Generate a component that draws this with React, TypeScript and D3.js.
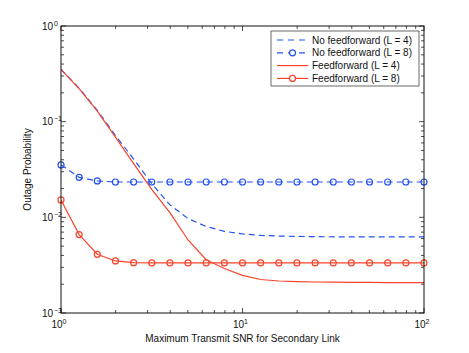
import * as d3 from "d3";
import React from "react";

// SNR points: 0..20 dB in 1 dB steps
const snrDb = d3.range(0, 21);
const snr = snrDb.map((k) => Math.pow(10, k / 10));

const noFfL4 = [0.352, 0.224, 0.131, 0.0717, 0.0407, 0.0225, 0.0135, 0.0097, 0.00803, 0.00713, 0.00671,
  0.00647, 0.00637, 0.00632, 0.00628, 0.00626, 0.00625, 0.00624, 0.00624, 0.00624, 0.00624];
const noFfL8 = [0.0353, 0.0262, 0.024, 0.0234, 0.0234, 0.0234, 0.0234, 0.0234, 0.0234, 0.0234, 0.0234,
  0.0234, 0.0234, 0.0234, 0.0234, 0.0234, 0.0234, 0.0234, 0.0234, 0.0234, 0.0234];
const ffL4 = [0.349, 0.222, 0.129, 0.069, 0.0365, 0.0196, 0.0112, 0.0058, 0.0036, 0.00292, 0.00247,
  0.00224, 0.00216, 0.00213, 0.00211, 0.0021, 0.00209, 0.00209, 0.00208, 0.00208, 0.00208];
const ffL8 = [0.0152, 0.0066, 0.00411, 0.0035, 0.00336, 0.00334, 0.00334, 0.00334, 0.00334, 0.00334, 0.00334,
  0.00334, 0.00334, 0.00334, 0.00334, 0.00334, 0.00334, 0.00334, 0.00334, 0.00334, 0.00334];

const legendLabels = ["No feedforward (L = 4)", "No feedforward (L = 8)", "Feedforward (L = 4)", "Feedforward (L = 8)"];
const xTicks = [1, 10, 100];
const yTicks = [0.001, 0.01, 0.1, 1];

const BLUE = "#2452f2";
const RED = "#f8442a";
const FONT = "'Liberation Sans', Arial, Helvetica, sans-serif";

const App = () => {
  const width = 469;
  const height = 353;
  const left = 61, right = 424, top = 26, bottom = 313;

  const x = d3.scaleLog().domain([1, 100]).range([left, right]);
  const y = d3.scaleLog().domain([0.001, 1]).range([bottom, top]);

  const line = d3.line<number>().x((_, i) => x(snr[i])).y((d) => y(d));

  const series = [
    { data: noFfL4, color: BLUE, dash: "6,4", marker: false },
    { data: noFfL8, color: BLUE, dash: "6,4", marker: true },
    { data: ffL4, color: RED, dash: null, marker: false },
    { data: ffL8, color: RED, dash: null, marker: true },
  ];

  // minor ticks
  const xMinor: number[] = [];
  [1, 10].forEach((d) => d3.range(2, 10).forEach((m) => xMinor.push(d * m)));
  const yMinor: number[] = [];
  [0.001, 0.01, 0.1].forEach((d) => d3.range(2, 10).forEach((m) => yMinor.push(d * m)));

  const sup = (v: number) => Math.round(Math.log10(v)).toString().replace("-", "\u2212");

  const lx = 271, ly = 31, lw = 148, lh = 55;

  return (
    <svg width={width} height={height} style={{ position: "absolute", left: 0, top: 0 }} fontFamily={FONT}>
      <rect width={width} height={height} fill="#fff" />
      <defs>
        <clipPath id="plot">
          <rect x={left} y={top} width={right - left} height={bottom - top} />
        </clipPath>
      </defs>

      {/* ticks */}
      <g stroke="#222" strokeWidth={0.8}>
        {xTicks.map((t) => (
          <g key={"xt" + t}>
            <line x1={x(t)} x2={x(t)} y1={bottom} y2={bottom - 5} />
            <line x1={x(t)} x2={x(t)} y1={top} y2={top + 5} />
          </g>
        ))}
        {xMinor.map((t) => (
          <g key={"xm" + t}>
            <line x1={x(t)} x2={x(t)} y1={bottom} y2={bottom - 3} />
            <line x1={x(t)} x2={x(t)} y1={top} y2={top + 3} />
          </g>
        ))}
        {yTicks.map((t) => (
          <g key={"yt" + t}>
            <line x1={left} x2={left + 5} y1={y(t)} y2={y(t)} />
            <line x1={right} x2={right - 5} y1={y(t)} y2={y(t)} />
          </g>
        ))}
        {yMinor.map((t) => (
          <g key={"ym" + t}>
            <line x1={left} x2={left + 3} y1={y(t)} y2={y(t)} />
            <line x1={right} x2={right - 3} y1={y(t)} y2={y(t)} />
          </g>
        ))}
      </g>

      {/* data */}
      <g clipPath="url(#plot)">
        {series.map((s, i) => (
          <path key={"l" + i} d={line(s.data) || ""} fill="none" stroke={s.color} strokeWidth={1.2}
            strokeDasharray={s.dash || undefined} />
        ))}
      </g>
      {series.filter((s) => s.marker).map((s, i) => (
        <g key={"m" + i}>
          {s.data.map((v, j) => (
            <circle key={j} cx={x(snr[j])} cy={y(v)} r={3} fill="none" stroke={s.color} strokeWidth={1.2} />
          ))}
        </g>
      ))}

      {/* frame */}
      <rect x={left} y={top} width={right - left} height={bottom - top} fill="none" stroke="#111" strokeWidth={1} />

      {/* tick labels */}
      <g fontSize={10} fill="#111">
        {xTicks.map((t) => (
          <text key={"xl" + t} x={x(t) - 2} y={328} textAnchor="middle">
            10<tspan dy={-4} fontSize={7}>{sup(t)}</tspan>
          </text>
        ))}
        {yTicks.map((t) => (
          <text key={"yl" + t} x={53} y={y(t) + 3.5} textAnchor="end">
            10<tspan x={54} dy={-4} fontSize={7} textAnchor="start">{sup(t)}</tspan>
          </text>
        ))}
      </g>

      {/* axis titles */}
      <text x={(left + right) / 2} y={342} textAnchor="middle" fontSize={10} fill="#111">
        Maximum Transmit SNR for Secondary Link
      </text>
      <text transform={`translate(31,${(top + bottom) / 2}) rotate(-90)`} textAnchor="middle" fontSize={10} fill="#111">
        Outage Probability
      </text>

      {/* legend */}
      <rect x={lx} y={ly} width={lw} height={lh} fill="#fff" stroke="#444" strokeWidth={0.8} />
      {series.map((s, i) => {
        const yy = 40 + i * 12.8;
        return (
          <g key={"lg" + i}>
            <line x1={277} x2={308} y1={yy} y2={yy} stroke={s.color} strokeWidth={1.2}
              strokeDasharray={s.dash ? "6,5" : undefined} />
            {s.marker && <circle cx={292.5} cy={yy} r={3} fill="#fff" stroke={s.color} strokeWidth={1.2} />}
            <text x={312} y={yy + 3.5} fontSize={10} fill="#111">{legendLabels[i]}</text>
          </g>
        );
      })}
    </svg>
  );
};

export default App;
